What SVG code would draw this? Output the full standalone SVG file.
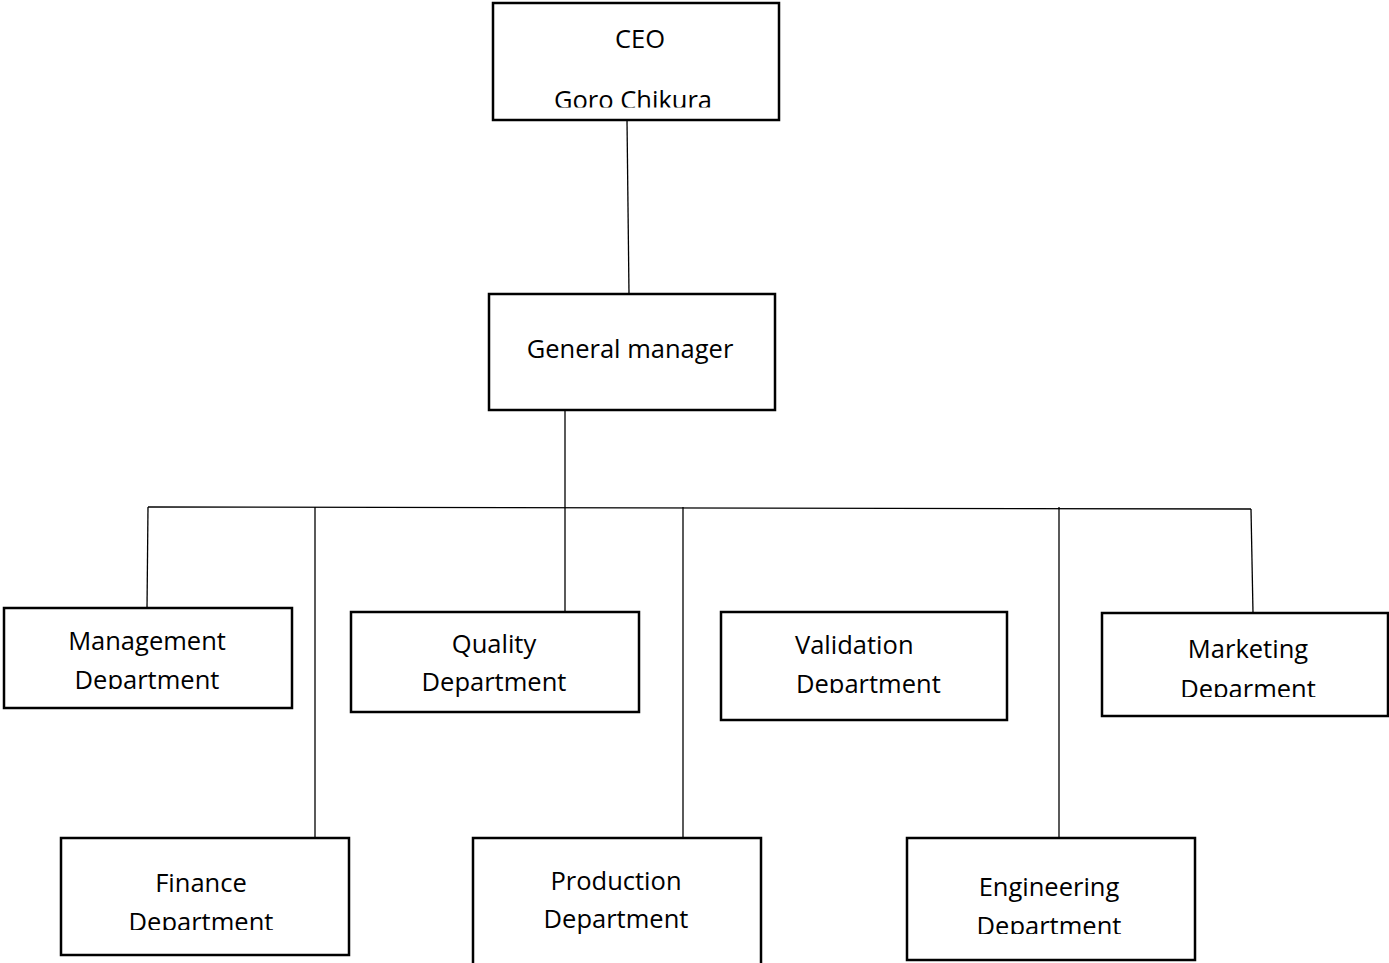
<svg xmlns="http://www.w3.org/2000/svg" width="1389" height="963" viewBox="0 0 1389 963">
<style>
.box{fill:#fff;stroke:#000;stroke-width:2.5}
.t{font-family:"Open Sans","Noto Sans",sans-serif;font-size:25.5px;fill:#000;text-anchor:middle}
.tl{font-family:"Open Sans","Noto Sans",sans-serif;font-size:25.5px;fill:#000}
.c{stroke:#000;stroke-width:1.3;fill:none}
</style>
<defs>
<clipPath id="cCEO"><rect x="0" y="0" width="1389" height="107.5"/></clipPath>
<clipPath id="cMan"><rect x="0" y="0" width="1389" height="689"/></clipPath>
<clipPath id="cVal"><rect x="0" y="0" width="1389" height="693"/></clipPath>
<clipPath id="cMar"><rect x="0" y="0" width="1389" height="697"/></clipPath>
<clipPath id="cFin"><rect x="0" y="0" width="1389" height="930"/></clipPath>
<clipPath id="cEng"><rect x="0" y="0" width="1389" height="934"/></clipPath>
</defs>
<rect width="1389" height="963" fill="#fff"/>
<g id="connectors">
<line class="c" x1="627" y1="120" x2="629" y2="294"/>
<line class="c" x1="565" y1="410" x2="565" y2="507"/>
<line class="c" x1="148" y1="507" x2="1251" y2="509"/>
<line class="c" x1="148" y1="507" x2="147" y2="610"/>
<line class="c" x1="315" y1="507" x2="315" y2="837"/>
<line class="c" x1="565" y1="507" x2="565" y2="611"/>
<line class="c" x1="683" y1="507" x2="683" y2="837"/>
<line class="c" x1="1059" y1="507" x2="1059" y2="837"/>
<line class="c" x1="1251" y1="509" x2="1253" y2="613"/>
</g>
<g id="ceo">
<rect class="box" x="493" y="3" width="286" height="117"/>
<text class="t" x="640" y="48">CEO</text>
<text class="t" x="633" y="109" clip-path="url(#cCEO)">Goro Chikura</text>
</g>
<g id="gm">
<rect class="box" x="489" y="294" width="286" height="116"/>
<text class="t" x="630" y="358">General manager</text>
</g>
<g id="management">
<rect class="box" x="4" y="608" width="288" height="100"/>
<text class="t" x="147" y="650">Management</text>
<text class="t" x="147" y="689" clip-path="url(#cMan)">Department</text>
</g>
<g id="quality">
<rect class="box" x="351" y="612" width="288" height="100"/>
<text class="t" x="494" y="653">Quality</text>
<text class="t" x="494" y="691">Department</text>
</g>
<g id="validation">
<rect class="box" x="721" y="612" width="286" height="108"/>
<text class="tl" x="795" y="654">Validation</text>
<text class="tl" x="796" y="693" clip-path="url(#cVal)">Department</text>
</g>
<g id="marketing">
<rect class="box" x="1102" y="613" width="286" height="103"/>
<text class="t" x="1248" y="658">Marketing</text>
<text class="t" x="1248" y="698" clip-path="url(#cMar)">Deparment</text>
</g>
<g id="finance">
<rect class="box" x="61" y="838" width="288" height="117"/>
<text class="t" x="201" y="892">Finance</text>
<text class="t" x="201" y="931" clip-path="url(#cFin)">Department</text>
</g>
<g id="production">
<rect class="box" x="473" y="838" width="288" height="130"/>
<text class="t" x="616" y="890">Production</text>
<text class="t" x="616" y="928">Department</text>
</g>
<g id="engineering">
<rect class="box" x="907" y="838" width="288" height="122"/>
<text class="t" x="1049" y="896">Engineering</text>
<text class="t" x="1049" y="935" clip-path="url(#cEng)">Department</text>
</g>
</svg>
